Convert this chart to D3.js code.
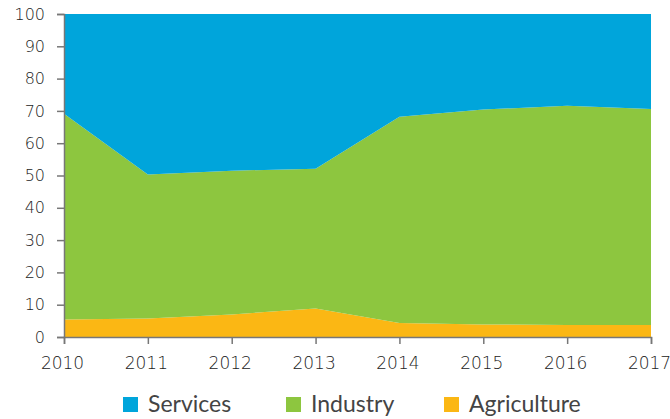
<!DOCTYPE html>
<html>
<head>
<meta charset="utf-8">
<script src="https://cdn.jsdelivr.net/npm/d3@7"></script>
<style>
  body { margin: 0; background: #fff; }
  text { font-family: Lato, "Open Sans", sans-serif; fill: #444; }
</style>
</head>
<body>
<div id="chart"></div>
<script>
var svgWidth = 670;
var svgHeight = 419;

var margin = { top: 14, right: 19, bottom: 82, left: 64 };
var width = svgWidth - margin.left - margin.right;
var height = svgHeight - margin.top - margin.bottom;

// data (percent of total)
var years = [2010, 2011, 2012, 2013, 2014, 2015, 2016, 2017];
var agriculture = [5.4, 5.7, 7.0, 8.8, 4.3, 3.9, 3.7, 3.7];
var industry = [63.7, 44.6, 44.5, 43.3, 63.9, 66.5, 67.9, 66.9];
var services = [30.9, 49.7, 48.5, 47.9, 31.8, 29.6, 28.4, 29.4];
var yTicks = [0, 10, 20, 30, 40, 50, 60, 70, 80, 90, 100];

var seriesNames = ["Agriculture", "Industry", "Services"];
var colors = { Agriculture: "#fbb714", Industry: "#8dc63f", Services: "#00a5db" };
var legendOrder = ["Services", "Industry", "Agriculture"];

var table = years.map(function(y, i) {
  return { year: y, Agriculture: agriculture[i], Industry: industry[i], Services: services[i] };
});

var svg = d3.select("#chart")
  .append("svg")
  .attr("width", svgWidth)
  .attr("height", svgHeight);

var chartGroup = svg.append("g")
  .attr("transform", `translate(${margin.left}, ${margin.top})`);

var x = d3.scaleLinear()
  .domain([2010, 2017])
  .range([0, width]);

var y = d3.scaleLinear()
  .domain([0, 100])
  .range([height, 0]);

var stacked = d3.stack().keys(seriesNames)(table);

var area = d3.area()
  .x(d => x(d.data.year))
  .y0(d => y(d[0]))
  .y1(d => y(d[1]));

chartGroup.selectAll(".layer")
  .data(stacked)
  .enter()
  .append("path")
  .attr("class", "layer")
  .attr("d", area)
  .attr("fill", d => colors[d.key]);

// axes
var leftAxis = d3.axisLeft(y).tickValues(yTicks).tickSize(7).tickPadding(12);
var bottomAxis = d3.axisBottom(x).tickValues(years).tickFormat(d3.format("d")).tickSize(7).tickPadding(13);

var yAxis = chartGroup.append("g").call(leftAxis);
var xAxis = chartGroup.append("g")
  .attr("transform", `translate(0, ${height})`)
  .call(bottomAxis);

[yAxis, xAxis].forEach(function(ax) {
  ax.select(".domain").attr("stroke", "#777").attr("stroke-width", 1.5);
  ax.selectAll(".tick line").attr("stroke", "#777").attr("stroke-width", 1.5);
  ax.selectAll(".tick text")
    .style("font-family", "'DejaVu Sans', sans-serif")
    .style("font-weight", 200)
    .style("fill", "#222");
});
yAxis.selectAll(".tick text").attr("font-size", 16);
xAxis.selectAll(".tick text").attr("font-size", 17).attr("dx", -2);

// legend
var legendX = [123, 286, 444];
var legend = svg.append("g").attr("transform", "translate(0, 397)");
legendOrder.forEach(function(name, i) {
  legend.append("rect")
    .attr("x", legendX[i])
    .attr("y", 0)
    .attr("width", 15)
    .attr("height", 15)
    .attr("fill", colors[name]);
  legend.append("text")
    .attr("x", legendX[i] + 25)
    .attr("y", 15)
    .attr("font-size", 23)
    .text(name);
});
</script>
</body>
</html>
